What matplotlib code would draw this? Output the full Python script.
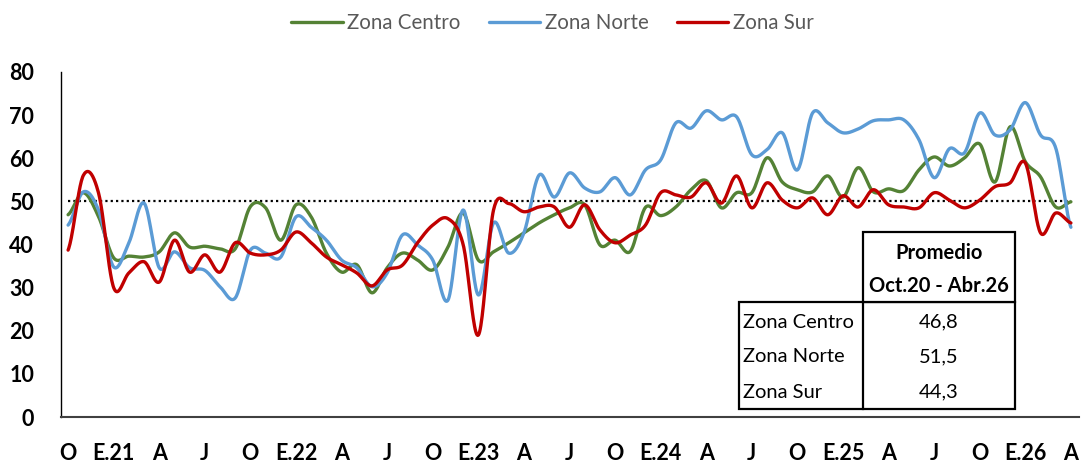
import numpy as np
import matplotlib
matplotlib.use('Agg')
import matplotlib.pyplot as plt
from matplotlib.patches import Rectangle
from matplotlib.lines import Line2D

plt.rcParams['font.family'] = ['Lato', 'DejaVu Sans']

# ---- Datos (oct.20 - abr.26, mensual) ----
centro = [46.9, 52.0, 46.5, 36.9, 37.3, 37.1, 38.3, 42.7, 39.4, 39.6, 39.0, 39.0,
          48.8, 48.5, 41.0, 49.2, 46.4, 38.0, 33.6, 35.3, 28.8, 34.6, 38.0, 36.4,
          34.1, 39.4, 47.3, 36.4, 38.3, 40.4, 42.7, 45.0, 46.9, 48.5, 49.2, 39.9,
          41.0, 38.4, 48.6, 46.7, 48.7, 52.7, 54.8, 48.5, 52.0, 52.0, 60.1, 54.5,
          52.7, 52.2, 55.9, 51.0, 57.8, 52.2, 52.9, 52.5, 57.3, 60.3, 58.2, 60.1,
          63.3, 54.5, 67.3, 59.2, 55.7, 48.7, 49.9]
norte = [44.5, 52.2, 48.0, 34.8, 40.4, 49.6, 34.6, 38.3, 34.6, 34.0, 30.2, 27.6,
         38.7, 38.0, 37.1, 46.4, 44.0, 41.0, 36.4, 34.6, 30.2, 33.4, 42.2, 39.9,
         36.4, 27.1, 48.0, 28.3, 45.0, 38.0, 42.7, 56.1, 51.0, 56.6, 53.1, 52.2,
         55.5, 51.5, 57.3, 59.6, 68.2, 67.0, 71.0, 68.9, 69.6, 60.8, 62.0, 65.9,
         57.3, 70.5, 68.2, 65.9, 66.8, 68.7, 68.9, 68.9, 64.3, 55.5, 62.2, 61.3,
         70.5, 65.4, 66.6, 72.9, 65.4, 62.4, 44.0]
sur = [38.7, 56.0, 52.0, 30.0, 33.4, 36.0, 31.3, 41.0, 33.6, 37.6, 33.6, 40.4,
       38.0, 37.6, 38.7, 42.9, 40.4, 37.1, 35.3, 33.4, 30.4, 34.1, 35.2, 40.4,
       44.5, 46.0, 40.0, 19.0, 48.0, 49.5, 47.6, 48.7, 48.7, 44.0, 49.2, 43.4,
       40.4, 42.2, 44.5, 52.0, 51.5, 51.0, 54.3, 49.6, 55.9, 48.5, 54.3, 50.3,
       48.5, 50.8, 46.9, 51.3, 48.7, 52.7, 49.2, 48.7, 48.5, 52.0, 50.3, 48.5,
       50.3, 53.4, 54.3, 58.9, 42.7, 47.3, 45.0]
umbral = 50
etiquetas_x = ['O', 'E.21', 'A', 'J', 'O', 'E.22', 'A', 'J', 'O', 'E.23', 'A', 'J',
               'O', 'E.24', 'A', 'J', 'O', 'E.25', 'A', 'J', 'O', 'E.26', 'A']
zonas = ['Zona Centro', 'Zona Norte', 'Zona Sur']
promedios = [46.8, 51.5, 44.3]
colores = ['#548235', '#5B9BD5', '#C00000']

meses = np.arange(len(centro))


def suavizar(x, y, n=24):
    """Curva suavizada tipo Excel (Catmull-Rom)."""
    y = np.asarray(y, float)
    x = np.asarray(x, float)
    py = np.concatenate([[y[0]], y, [y[-1]]])
    t = np.linspace(0, 1, n, endpoint=False)
    h00 = 2 * t**3 - 3 * t**2 + 1
    h10 = t**3 - 2 * t**2 + t
    h01 = -2 * t**3 + 3 * t**2
    h11 = t**3 - t**2
    xs, ys = [], []
    for i in range(len(y) - 1):
        p0, p1, p2, p3 = py[i], py[i + 1], py[i + 2], py[i + 3]
        m1 = (p2 - p0) / 2
        m2 = (p3 - p1) / 2
        ys.append(h00 * p1 + h10 * m1 + h01 * p2 + h11 * m2)
        xs.append(x[i] + t * (x[i + 1] - x[i]))
    xs.append([x[-1]])
    ys.append([y[-1]])
    return np.concatenate(xs), np.concatenate(ys)


W, H = 1081, 463
fig = plt.figure(figsize=(W / 100, H / 100), dpi=100)
ax = fig.add_axes([60.5 / W, 1 - 417 / H, 1018 / W, 345 / H])

for serie, nombre, c in zip([centro, norte, sur], zonas, colores):
    xs, ys = suavizar(meses, serie)
    ax.plot(xs, ys, color=c, lw=2.4, label=nombre, solid_capstyle='round', zorder=3)

ax.hlines(umbral, meses[0], meses[-1], colors='black', linestyles=(0, (1, 1.4)),
          lw=1.6, zorder=2)

ax.set_xlim(-0.5, len(meses) - 0.5)
ax.set_ylim(0, 80)
ax.set_yticks(np.arange(0, 81, 10))
ax.set_xticks(meses[::3])
ax.set_xticklabels(etiquetas_x)
ax.tick_params(axis='both', length=0, labelsize=15.5)
ax.tick_params(axis='y', pad=19)
ax.tick_params(axis='x', pad=19)
for lab in ax.get_xticklabels() + ax.get_yticklabels():
    lab.set_fontweight('bold')

for s in ['top', 'right']:
    ax.spines[s].set_visible(False)
ax.spines['left'].set_linewidth(1.0)
ax.spines['bottom'].set_linewidth(1.5)
ax.spines['bottom'].set_color('#404040')

fig.legend(loc='upper center', bbox_to_anchor=(0.511, 1.012), ncol=3, frameon=False,
           fontsize=14.8, handlelength=2.5, handletextpad=0.2, columnspacing=1.4,
           labelcolor='#595959')

# ---- Tabla de promedios ----
def fx(x):
    return x / W


def fy(y):
    return 1 - y / H


lw_t = 1.6
fig.add_artist(Rectangle((fx(739), fy(409)), fx(1015) - fx(739), fy(302) - fy(409),
                         transform=fig.transFigure, facecolor='white',
                         edgecolor='black', lw=lw_t, zorder=5))
fig.add_artist(Rectangle((fx(863), fy(302)), fx(1015) - fx(863), fy(232) - fy(302),
                         transform=fig.transFigure, facecolor='white',
                         edgecolor='black', lw=lw_t, zorder=5))
fig.add_artist(Line2D([fx(863), fx(863)], [fy(409), fy(302)], transform=fig.transFigure,
                      color='black', lw=lw_t, zorder=6))

fig.text(fx(939), fy(253), 'Promedio', ha='center', va='center', fontsize=14.5,
         fontweight='bold', zorder=7)
fig.text(fx(939), fy(286), 'Oct.20 - Abr.26', ha='center', va='center', fontsize=14.5,
         fontweight='bold', zorder=7)
for k, (nombre, val) in enumerate(zip(zonas, promedios)):
    yy = 322 + 35 * k
    fig.text(fx(743), fy(yy), nombre, ha='left', va='center', fontsize=14.5, zorder=7)
    fig.text(fx(939), fy(yy), f'{val:.1f}'.replace('.', ','), ha='center', va='center',
             fontsize=14.5, zorder=7)

fig.savefig('out.png', dpi=100)
